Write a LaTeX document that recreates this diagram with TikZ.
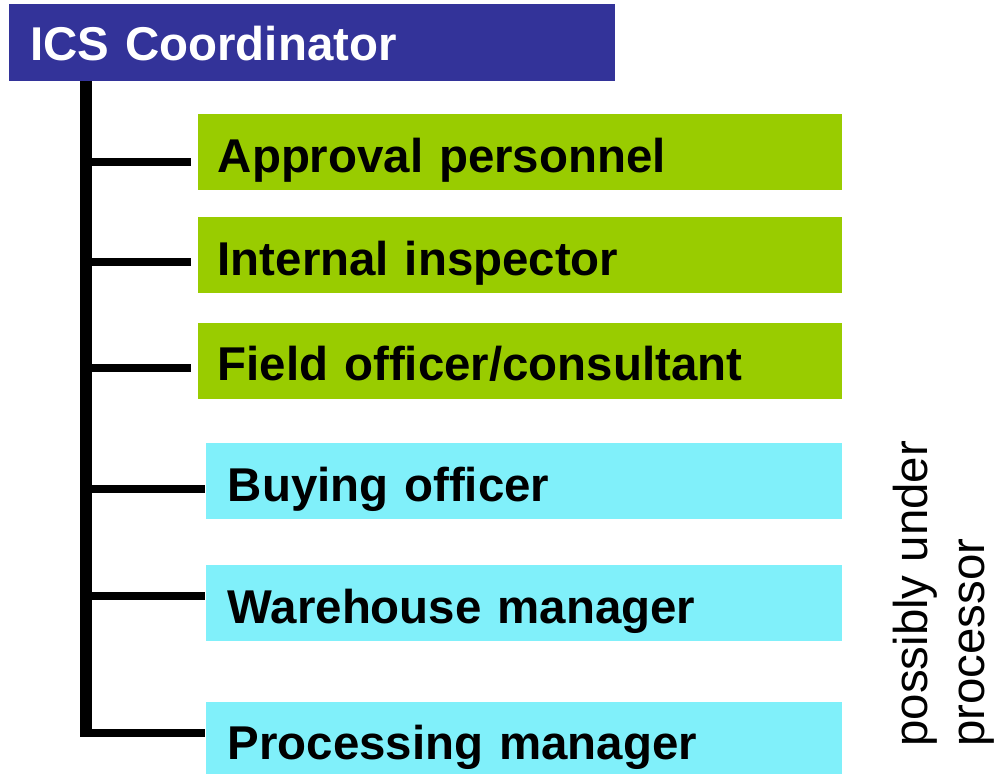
\documentclass[tikz,border=0pt]{standalone}
\usepackage{fontspec}
\setmainfont{Liberation Sans}
\usetikzlibrary{positioning}
\definecolor{icsblue}{HTML}{333399}
\definecolor{icsgreen}{HTML}{99CC00}
\definecolor{icscyan}{HTML}{80F0FA}

\begin{document}
\begin{tikzpicture}[x=0.02cm, y=-0.02cm,
      head/.style={fill=icsblue, text=white, minimum height=1.53cm,
                   inner xsep=0.42cm, text width=11.28cm, align=left,
                   text height=0.8cm, text depth=0.1cm,
                   font=\fontsize{27}{32}\selectfont\bfseries},
      grn/.style={fill=icsgreen, minimum height=1.52cm,
                  inner xsep=0.4cm, text width=12.08cm, align=left,
                  text height=0.9cm, text depth=0.1cm,
                  font=\fontsize{27}{32}\selectfont\bfseries},
      cyn/.style={fill=icscyan, minimum height=1.52cm,
                  inner xsep=0.44cm, text width=11.84cm, align=left,
                  text height=0.9cm, text depth=0.1cm,
                  font=\fontsize{27}{32}\selectfont\bfseries},
      trunkline/.style={line width=0.24cm},
      branch/.style={line width=0.16cm},
      note/.style={rotate=90, inner sep=0pt, align=left,
                   font=\fontsize{27}{32.4}\selectfont}
  ]
    \useasboundingbox (0,0) rectangle (998,774);
    \node[head, anchor=north west] (ics) at (9,4) {ICS Coordinator};
    \node[grn, anchor=north east] (appr) at (842,114) {Approval personnel};
    \node[grn, below=0.52cm of appr.south east, anchor=north east] (insp) {Internal inspector};
    \node[grn, below=0.58cm of insp.south east, anchor=north east] (field) {Field officer/consultant};
    \node[cyn, below=0.88cm of field.south east, anchor=north east] (buy) {Buying officer};
    \node[cyn, below=0.9cm of buy.south east, anchor=north east] (ware) {Warehouse manager};
    \node[cyn, below=1.2cm of ware.south east, anchor=north east] (proc) {Processing manager};
    \node[note, anchor=north west] (under) at (893,747) {possibly under\\processor};
    \coordinate (trunk) at (86,0);
    \draw[trunkline] (ics.south -| trunk) -- ([yshift=0.06cm]proc.west -| trunk);
    \foreach \b/\dy/\gap in {appr/10/6, insp/7/6, field/7/6, buy/8/0, ware/-7/0, proc/-7/0}
      \draw[branch, shorten >=\gap*0.02cm] ([yshift=-\dy*0.02cm]\b.west -| trunk)
        -- ([yshift=-\dy*0.02cm]\b.west);
  \end{tikzpicture}
\end{document}
